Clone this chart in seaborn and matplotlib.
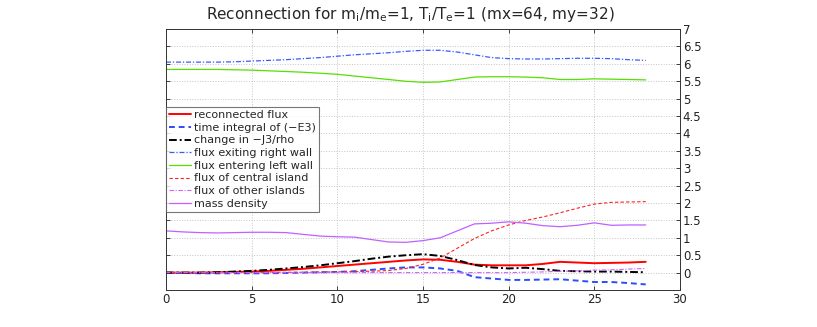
import numpy as np
import pandas as pd
import seaborn as sns
import matplotlib
matplotlib.use('Agg')
import matplotlib.pyplot as plt

# time samples
t = list(range(29))

# series
reconnected_flux = [0.0, 0.0, 0.0, 0.01, 0.02, 0.03, 0.05, 0.08, 0.11, 0.15, 0.19, 0.23, 0.27, 0.31, 0.35, 0.38, 0.37, 0.31, 0.23, 0.21, 0.21, 0.21, 0.25, 0.31, 0.29, 0.27, 0.28, 0.29, 0.31]
time_integral_E3 = [0.0, -0.01, -0.02, -0.02, -0.02, -0.02, -0.02, -0.01, 0.0, 0.01, 0.02, 0.04, 0.08, 0.12, 0.15, 0.15, 0.12, 0.05, -0.13, -0.17, -0.21, -0.21, -0.2, -0.19, -0.23, -0.27, -0.27, -0.3, -0.34]
change_J3_rho = [0.0, 0.0, 0.0, 0.01, 0.03, 0.05, 0.08, 0.12, 0.16, 0.21, 0.27, 0.33, 0.4, 0.46, 0.5, 0.53, 0.48, 0.36, 0.22, 0.15, 0.12, 0.14, 0.1, 0.05, 0.04, 0.03, 0.03, 0.02, 0.01]
flux_right_wall = [6.05, 6.05, 6.05, 6.05, 6.06, 6.08, 6.1, 6.12, 6.15, 6.18, 6.22, 6.26, 6.29, 6.32, 6.36, 6.39, 6.39, 6.34, 6.26, 6.18, 6.15, 6.14, 6.14, 6.15, 6.16, 6.16, 6.15, 6.12, 6.1]
flux_left_wall = [5.84, 5.84, 5.84, 5.84, 5.83, 5.82, 5.8, 5.78, 5.76, 5.73, 5.7, 5.65, 5.6, 5.55, 5.5, 5.47, 5.48, 5.55, 5.62, 5.63, 5.63, 5.62, 5.6, 5.55, 5.55, 5.57, 5.56, 5.55, 5.54]
flux_central_island = [0.0, 0.0, 0.0, 0.0, 0.0, 0.0, 0.0, 0.01, 0.01, 0.02, 0.02, 0.03, 0.04, 0.06, 0.12, 0.24, 0.42, 0.7, 0.98, 1.2, 1.37, 1.5, 1.6, 1.72, 1.85, 1.97, 2.02, 2.03, 2.04]
flux_other_islands = [0.0, 0.0, 0.0, 0.0, 0.0, 0.0, 0.0, 0.0, 0.0, 0.0, 0.0, 0.0, 0.0, 0.0, 0.0, 0.0, 0.0, 0.0, 0.0, 0.0, 0.0, 0.01, 0.02, 0.04, 0.05, 0.07, 0.08, 0.1, 0.12]
mass_density = [1.2, 1.17, 1.15, 1.14, 1.15, 1.16, 1.16, 1.15, 1.1, 1.05, 1.03, 1.02, 0.95, 0.88, 0.87, 0.92, 1.0, 1.2, 1.4, 1.42, 1.46, 1.42, 1.35, 1.32, 1.36, 1.43, 1.36, 1.37, 1.37]

labels = ['reconnected flux', 'time integral of (\u2212E3)', 'change in \u2212J3/rho',
          'flux exiting right wall', 'flux entering left wall', 'flux of central island',
          'flux of other islands', 'mass density']

sns.set_theme(style='white')
plt.rcParams['font.family'] = ['DejaVu Sans']

fig = plt.figure(figsize=(8.17, 3.27), dpi=100)
ax = fig.add_axes([0.2032, 0.1131, 0.6291, 0.798])

series = [reconnected_flux, time_integral_E3, change_J3_rho, flux_right_wall,
          flux_left_wall, flux_central_island, flux_other_islands, mass_density]
colors = ['#ff0000', '#2b4cff', '#000000', '#3a5cff', '#55e000', '#ff2020', '#d060ff', '#c060ff']
styles = ['-', (0, (3, 2)), (0, (4, 1.5, 1, 1.5)), (0, (4, 1.5, 1, 1.5)), '-',
          (0, (3, 2)), (0, (4, 1.5, 1, 1.5)), '-']
widths = [1.4, 1.4, 1.4, 0.9, 0.9, 0.8, 0.8, 0.9]

for vals, lab, c, ls, lw in zip(series, labels, colors, styles, widths):
    sns.lineplot(x=t, y=vals, ax=ax, color=c, linestyle=ls, linewidth=lw, label=lab)

ax.set_xlim(0, 30)
ax.set_ylim(-0.5, 7)
ax.set_xticks(np.arange(0, 31, 5))
ax.set_yticks(np.arange(0, 7.01, 0.5))
ax.set_yticklabels(['0', '0.5', '1', '1.5', '2', '2.5', '3', '3.5', '4', '4.5', '5', '5.5', '6', '6.5', '7'])
ax.yaxis.tick_right()
ax.tick_params(axis='both', direction='in', length=3, width=0.6, labelsize=8.5, pad=2,
               left=True, right=True, top=True, bottom=True, colors='#222222')
ax.tick_params(axis='y', labelleft=False, labelright=True)
ax.grid(True, linestyle=':', color='#c4c4c4', linewidth=0.7)
for s in ax.spines.values():
    s.set_color('#333333')
    s.set_linewidth(0.7)

ax.set_title(r'Reconnection for m$_\mathregular{i}$/m$_\mathregular{e}$=1, '
             r'T$_\mathregular{i}$/T$_\mathregular{e}$=1 (mx=64, my=32)',
             fontsize=11, pad=7, x=0.475)

leg = ax.legend(loc='upper left', bbox_to_anchor=(0.0, 0.70), fontsize=8,
                frameon=True, fancybox=False, borderpad=0.25, labelspacing=0.24,
                handlelength=2.0, handletextpad=0.3, borderaxespad=0.0)
leg.get_frame().set_edgecolor('#555555')
leg.get_frame().set_linewidth(0.8)

fig.savefig('out.png', dpi=100)
